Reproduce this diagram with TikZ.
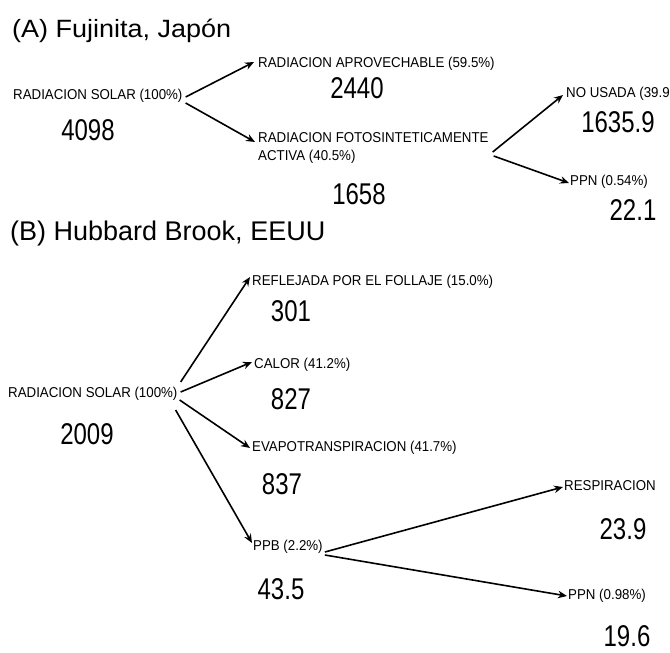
\documentclass[tikz,border=0pt]{standalone}
\usepackage{fontspec}
\setmainfont{Liberation Sans}
\newfontfamily\lblfont{Liberation Sans}[FakeStretch=0.93]
\newfontfamily\numfont{Liberation Sans}[FakeStretch=0.8]
\newfontfamily\titfont{Liberation Sans}[FakeStretch=1.08]
\usetikzlibrary{arrows.meta,calc}
\tikzset{
  lbl/.style={anchor=west, inner sep=0pt, font=\lblfont\fontsize{14.3}{18}\selectfont},
  num/.style={anchor=center, inner sep=0pt, font=\numfont\fontsize{30}{32}\selectfont},
  titA/.style={anchor=base west, inner sep=0pt, font=\titfont\fontsize{25}{28}\selectfont},
  titB/.style={anchor=base west, inner sep=0pt, font=\fontsize{27}{30}\selectfont},
  arr/.style={line width=1.6pt, -{Stealth[length=9pt,width=7.5pt]}}
}
\begin{document}
\begin{tikzpicture}[x=1pt,y=-1pt]
\useasboundingbox (0,0) rectangle (670,653);
% ---------- (A)
\node[titA] (tA) at (12,37) {(A) Fujinita, Japón};
\node[lbl] (sA) at (13,96) {RADIACION SOLAR (100\%)};
\node[num] (nA) at (88,130) {4098};
\node[lbl] (aprov) at (258,64) {RADIACION APROVECHABLE (59.5\%)};
\node[num] (n2440) at (357,88) {2440};
\node[lbl, align=left] (foto) at (258,148) {RADIACION FOTOSINTETICAMENTE\\ACTIVA (40.5\%)};
\node[num] (n1658) at (359,194) {1658};
\node[lbl] (nous) at (566,94) {NO USADA (39.9};
\node[num] (n1635) at (618,122) {1635.9};
\node[lbl] (ppnA) at (570,182) {PPN (0.54\%)};
\node[num] (n221) at (633,210) {22.1};
\draw[arr] ($(sA.east)+(3,1)$) -- ($(aprov.west)+(-4,-2)$);
\draw[arr] ($(sA.east)+(3,7)$) -- ($(foto.west)+(-3,-6)$);
\draw[arr] ($(foto.east)+(4,4)$) -- ($(nous.west)+(-3,1)$);
\draw[arr] ($(foto.east)+(5,8)$) -- ($(ppnA.west)+(-1,1)$);
% ---------- (B)
\node[titB] (tB) at (10,240) {(B) Hubbard Brook, EEUU};
\node[lbl] (sB) at (8,394) {RADIACION SOLAR (100\%)};
\node[num] (n2009) at (87,434) {2009};
\node[lbl] (refl) at (252,282) {REFLEJADA POR EL FOLLAJE (15.0\%)};
\node[num] (n301) at (291,311) {301};
\node[lbl] (calor) at (254,365) {CALOR (41.2\%)};
\node[num] (n827) at (291,399) {827};
\node[lbl] (evap) at (252,448) {EVAPOTRANSPIRACION (41.7\%)};
\node[num] (n837) at (282,484) {837};
\node[lbl] (ppb) at (253,547) {PPB (2.2\%)};
\node[num] (n435) at (281,589) {43.5};
\node[lbl] (resp) at (564,486) {RESPIRACION};
\node[num] (n239) at (623,529) {23.9};
\node[lbl] (ppnB) at (568,596) {PPN (0.98\%)};
\node[num] (n196) at (627,636) {19.6};
\draw[arr] ($(sB.east)+(3,-12)$) -- ($(refl.west)+(-2,-5)$);
\draw[arr] ($(sB.east)+(3,-2)$) -- ($(calor.west)+(-2,-3)$);
\draw[arr] ($(sB.east)+(2,6)$) -- ($(evap.west)+(-2,0)$);
\draw[arr] ($(sB.east)+(-2,16)$) -- ($(ppb.west)+(-1,-4)$);
\draw[arr] ($(ppb.east)+(2,5)$) -- ($(resp.west)+(-1,1)$);
\draw[arr] ($(ppb.east)+(2,8)$) -- ($(ppnB.west)+(-1,0)$);
\end{tikzpicture}
\end{document}
